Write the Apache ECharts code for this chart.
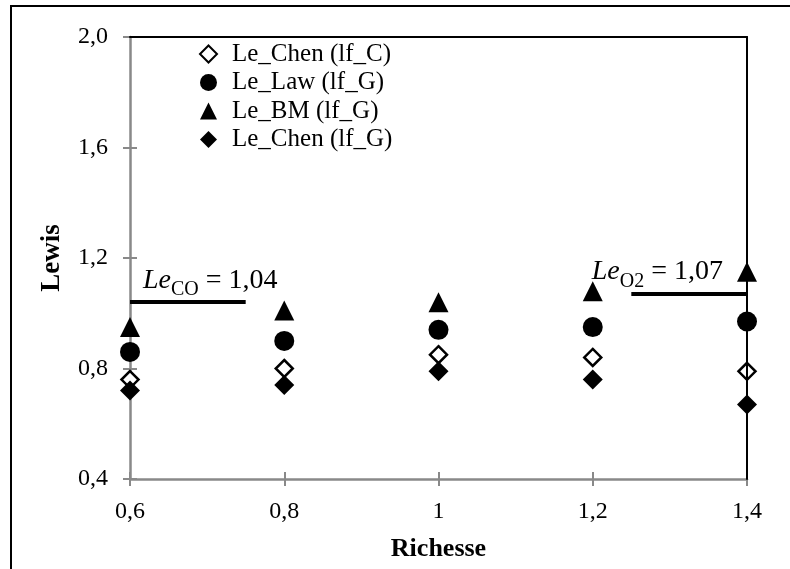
<!DOCTYPE html>
<html>
<head>
<meta charset="utf-8">
<script src="https://cdn.jsdelivr.net/npm/echarts@6/dist/echarts.min.js"></script>
<style>
  html, body { margin: 0; padding: 0; background: #fff; }
  #chart { width: 790px; height: 569px; }
</style>
</head>
<body>
<div id="chart"></div>
<script>
// Richesse (equivalence ratio) values
const richesse = [0.6, 0.8, 1.0, 1.2, 1.4];

// Lewis numbers per model
const leChenC = [0.76, 0.80, 0.85, 0.84, 0.79];
const leLawG  = [0.86, 0.90, 0.94, 0.95, 0.97];
const leBMG   = [0.95, 1.01, 1.04, 1.08, 1.15];
const leChenG = [0.72, 0.74, 0.79, 0.76, 0.67];

const seriesNames = ['Le_Chen (lf_C)', 'Le_Law (lf_G)', 'Le_BM (lf_G)', 'Le_Chen (lf_G)'];

// Reference Lewis numbers of CO and O2, with the richesse span of each line
const leCO = 1.04, leCOSpan = [0.6, 0.75];
const leO2 = 1.07, leO2Span = [1.25, 1.4];

const xTickLabels = ['0,6', '0,8', '1', '1,2', '1,4'];
const yTickLabels = ['0,4', '0,8', '1,2', '1,6', '2,0'];

const serif = 'Liberation Serif, Times New Roman, serif';
const axisGray = '#898989';

const pairs = ys => richesse.map((x, i) => [x, ys[i]]);

const chart = echarts.init(document.getElementById('chart'));

const gridBox = { left: 130, top: 37, right: 43, bottom: 90 };

const richAnno = {
  i: { fontFamily: serif, fontSize: 28, fontStyle: 'italic', color: '#000', verticalAlign: 'bottom', padding: [0, 0, 6, 0] },
  s: { fontFamily: serif, fontSize: 20, color: '#000', verticalAlign: 'bottom' },
  n: { fontFamily: serif, fontSize: 28, color: '#000', verticalAlign: 'bottom', padding: [0, 0, 6, 0] }
};

chart.setOption({
  animation: false,
  backgroundColor: '#fff',
  graphic: [{
    type: 'rect',
    shape: { x: 11, y: 6, width: 1000, height: 1000 },
    style: { fill: 'none', stroke: '#000', lineWidth: 2 },
    silent: true
  }],
  grid: [
    Object.assign({}, gridBox),
    Object.assign({}, gridBox)
  ],
  legend: {
    orient: 'vertical',
    left: 194,
    top: 35,
    itemWidth: 17,
    itemHeight: 17,
    itemGap: 0.5,
    data: seriesNames,
    textStyle: {
      fontFamily: serif,
      fontSize: 25,
      color: '#000',
      lineHeight: 28,
      padding: [0, 0, 0, 10]
    }
  },
  xAxis: [
    {
      gridIndex: 0, type: 'value', min: 0.6, max: 1.4, interval: 0.2,
      name: 'Richesse', nameLocation: 'middle', nameGap: 57,
      nameTextStyle: { fontFamily: serif, fontSize: 26, fontWeight: 'bold', color: '#000' },
      axisLine: { show: true, lineStyle: { color: axisGray, width: 2.5 } },
      axisTick: { show: true, inside: false, length: 7, lineStyle: { color: axisGray, width: 2 } },
      axisLabel: {
        margin: 21, fontFamily: serif, fontSize: 24, color: '#000',
        formatter: (v, i) => xTickLabels[i]
      },
      splitLine: { show: false }
    },
    {
      gridIndex: 1, type: 'value', min: 0.6, max: 1.4, interval: 0.2, position: 'bottom',
      axisLine: { show: false },
      axisTick: { show: true, inside: true, length: 7, lineStyle: { color: axisGray, width: 2 } },
      axisLabel: { show: false },
      splitLine: { show: false }
    },
    {
      gridIndex: 1, type: 'value', min: 0.6, max: 1.4, position: 'top', z: 5,
      axisLine: { show: true, onZero: false, lineStyle: { color: '#000', width: 2 } },
      axisTick: { show: false }, axisLabel: { show: false }, splitLine: { show: false }
    }
  ],
  yAxis: [
    {
      gridIndex: 0, type: 'value', min: 0.4, max: 2.0, interval: 0.4,
      name: 'Lewis', nameLocation: 'middle', nameGap: 64,
      nameTextStyle: { fontFamily: serif, fontSize: 27, fontWeight: 'bold', color: '#000' },
      axisLine: { show: true, lineStyle: { color: axisGray, width: 2.5 } },
      axisTick: { show: true, inside: false, length: 7, lineStyle: { color: axisGray, width: 2 } },
      axisLabel: {
        margin: 22, fontFamily: serif, fontSize: 24, color: '#000',
        formatter: (v, i) => yTickLabels[i]
      },
      splitLine: { show: false }
    },
    {
      gridIndex: 1, type: 'value', min: 0.4, max: 2.0, interval: 0.4, position: 'left',
      axisLine: { show: false },
      axisTick: { show: true, inside: true, length: 7, lineStyle: { color: axisGray, width: 2 } },
      axisLabel: { show: false },
      splitLine: { show: false }
    },
    {
      gridIndex: 1, type: 'value', min: 0.4, max: 2.0, position: 'right', z: 5,
      axisLine: { show: true, onZero: false, lineStyle: { color: '#000', width: 2 } },
      axisTick: { show: false }, axisLabel: { show: false }, splitLine: { show: false }
    }
  ],
  series: [
    {
      name: seriesNames[0], type: 'scatter', xAxisIndex: 0, yAxisIndex: 0,
      symbol: 'diamond', symbolSize: 17,
      itemStyle: { color: '#fff', borderColor: '#000', borderWidth: 2.5, opacity: 1 },
      data: pairs(leChenC)
    },
    {
      name: seriesNames[1], type: 'scatter', xAxisIndex: 0, yAxisIndex: 0,
      symbol: 'circle', symbolSize: 20,
      itemStyle: { color: '#000', opacity: 1 },
      data: pairs(leLawG)
    },
    {
      name: seriesNames[2], type: 'scatter', xAxisIndex: 0, yAxisIndex: 0,
      symbol: 'triangle', symbolSize: 20,
      itemStyle: { color: '#000', opacity: 1 },
      data: pairs(leBMG)
    },
    {
      name: seriesNames[3], type: 'scatter', xAxisIndex: 0, yAxisIndex: 0,
      symbol: 'diamond', symbolSize: 20,
      itemStyle: { color: '#000', opacity: 1 },
      data: pairs(leChenG)
    },
    {
      name: 'refLewis', type: 'scatter', xAxisIndex: 0, yAxisIndex: 0,
      data: [],
      markLine: {
        silent: true,
        symbol: 'none',
        lineStyle: { color: '#000', width: 4, type: 'solid' },
        data: [
          [
            { coord: [leCOSpan[0], leCO],
              label: { show: true, position: 'insideStartTop', distance: [13, 2],
                       formatter: '{i|Le}{s|CO}{n| = ' + leCO.toFixed(2).replace('.', ',') + '}', rich: richAnno } },
            { coord: [leCOSpan[1], leCO] }
          ],
          [
            { coord: [leO2Span[0], leO2],
              label: { show: true, position: 'insideEndTop', distance: [24, 2],
                       formatter: '{i|Le}{s|O2}{n| = ' + leO2.toFixed(2).replace('.', ',') + '}', rich: richAnno } },
            { coord: [leO2Span[1], leO2] }
          ]
        ]
      }
    }
  ]
});
</script>
</body>
</html>
